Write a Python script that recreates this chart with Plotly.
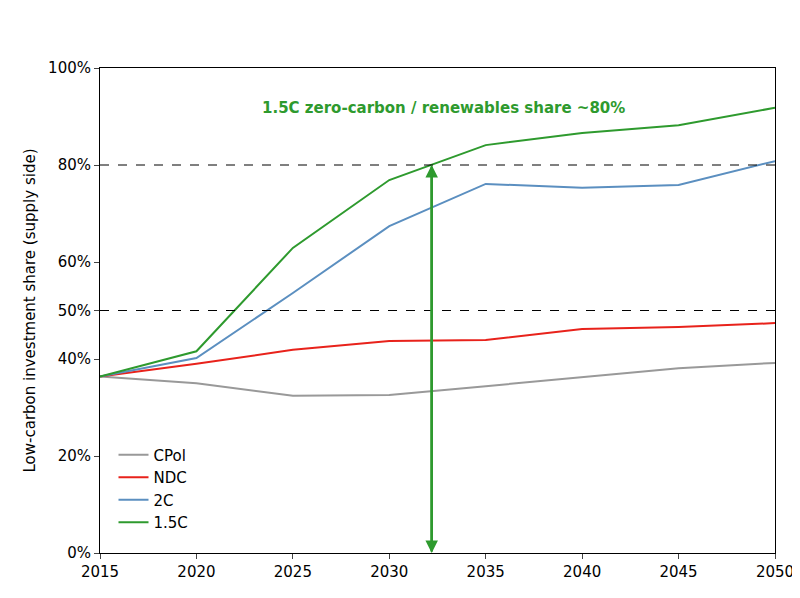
import plotly.graph_objects as go

years = [2015, 2020, 2025, 2030, 2035, 2040, 2045, 2050]
cpol = [36.4, 35.0, 32.4, 32.6, 34.4, 36.3, 38.1, 39.2]
ndc = [36.4, 39.0, 41.9, 43.7, 43.9, 46.2, 46.6, 47.4]
c2 = [36.4, 40.2, 53.6, 67.4, 76.1, 75.3, 75.9, 80.8]
c15 = [36.4, 41.6, 62.9, 76.9, 84.1, 86.6, 88.2, 91.8]
y_ticks = [0, 20, 40, 50, 60, 80, 100]
y_labels = ["0%", "20%", "40%", "50%", "60%", "80%", "100%"]
arrow_year = 2032.2
arrow_top = 80

green = "#2e9a2e"
fig = go.Figure()
for name, vals, col in [("CPol", cpol, "#999999"), ("NDC", ndc, "#e8221b"),
                        ("2C", c2, "#5b8fc0"), ("1.5C", c15, green)]:
    fig.add_trace(go.Scatter(x=years, y=vals, mode="lines", name=name,
                             line=dict(color=col, width=2)))

for h in [50, 80]:
    fig.add_shape(type="line", x0=2015, x1=2050, y0=h, y1=h,
                  line=dict(color="black", width=1, dash="dash"))

fig.add_annotation(x=arrow_year, y=arrow_top, ax=arrow_year, ay=0, xref="x", yref="y",
                   axref="x", ayref="y", showarrow=True, arrowhead=2, arrowsize=1,
                   arrowwidth=2.5, arrowcolor=green, text="")
fig.add_annotation(x=arrow_year, y=0, ax=arrow_year, ay=arrow_top, xref="x", yref="y",
                   axref="x", ayref="y", showarrow=True, arrowhead=2, arrowsize=1,
                   arrowwidth=2.5, arrowcolor=green, text="")
fig.add_annotation(x=2032.8, y=91.8, xref="x", yref="y", showarrow=False,
                   text="<b>1.5C zero-carbon / renewables share ~80%</b>",
                   font=dict(color=green, size=15))

fig.update_layout(
    width=800, height=598, margin=dict(l=92, r=33, t=60, b=53),
    paper_bgcolor="white", plot_bgcolor="white",
    font=dict(family="DejaVu Sans", size=15, color="black"),
    legend=dict(x=0.02, y=0.03, xanchor="left", yanchor="bottom",
                bgcolor="rgba(255,255,255,0)", font=dict(size=15)),
    xaxis=dict(range=[2015, 2050], tickvals=years, showgrid=False, zeroline=False,
               showline=True, linecolor="black", mirror=True, ticks="outside",
               automargin=False),
    yaxis=dict(range=[0, 100], tickvals=y_ticks, ticktext=y_labels, showgrid=False,
               zeroline=False, showline=True, linecolor="black", mirror=True,
               ticks="outside", automargin=False,
               title=dict(text="Low-carbon investment share (supply side)",
                          font=dict(size=15), standoff=8)),
)
fig.write_html("out.html")
